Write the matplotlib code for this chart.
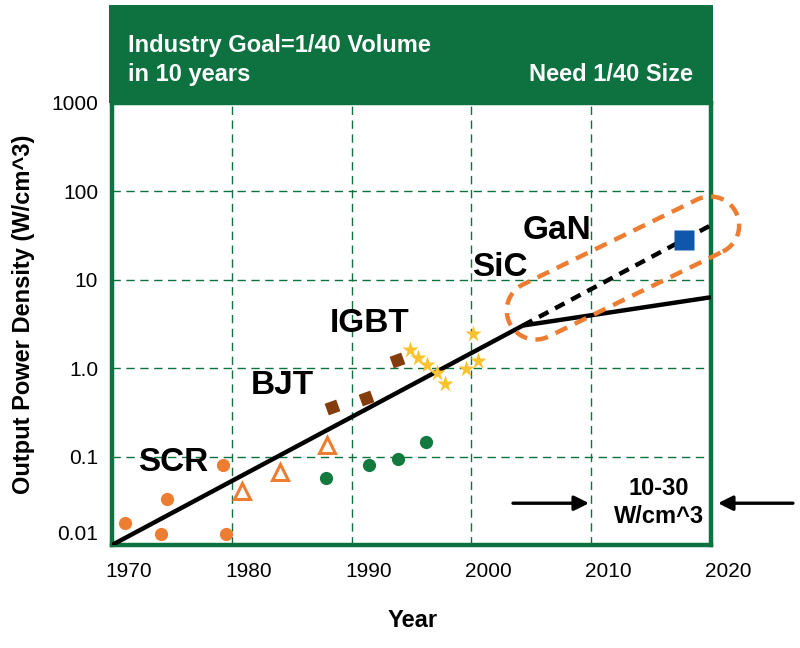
import numpy as np
import matplotlib
matplotlib.use("Agg")
import matplotlib.pyplot as plt
from matplotlib.transforms import ScaledTranslation, IdentityTransform
from matplotlib.patches import Polygon

plt.rcParams['font.family'] = ['Liberation Sans', 'DejaVu Sans']

# ---------------- data ----------------
scr_year = [1971.1, 1974.1, 1974.6, 1979.3, 1979.5]
scr_val = [0.0177, 0.0133, 0.0329, 0.0813, 0.0133]

tri_year = [1980.85, 1984.0, 1987.95]
tri_val = [0.0404, 0.0678, 0.136]

green_year = [1987.9, 1991.45, 1993.9, 1996.2]
green_val = [0.058, 0.081, 0.095, 0.147]

bjt_year = [1988.35, 1991.2, 1993.8]
bjt_val = [0.365, 0.46, 1.23]

igbt_year = [1994.9, 1995.55, 1996.3, 1997.1, 1997.8, 1999.55, 2000.15, 2000.55]
igbt_val = [1.59, 1.29, 1.08, 0.88, 0.66, 0.975, 2.41, 1.2]

gan_year = [2017.75]
gan_val = [28.1]

trend_year = [1970, 2004.3, 2020]
trend_val = [0.01, 3.04, 6.35]

gan_trend_year = [2004.3, 2020]
gan_trend_val = [3.04, 41.5]

x_ticks = [1970, 1980, 1990, 2000, 2010, 2020]
x_ticklabels = ['1970', '1980', '1990', '2000', '2010', '2020']
y_ticks = [0.01, 0.1, 1, 10, 100, 1000]
y_ticklabels = ['0.01', '0.1', '1.0', '10', '100', '1000']

GREEN = '#0d7140'
ORANGE = '#ed7d31'
PT_GREEN = '#127a3e'
BROWN = '#843c0c'
YELLOW = '#f9c22e'
BLUE = '#0f57ab'

# ---------------- figure ----------------
W, H = 800, 648
fig = plt.figure(figsize=(W / 100, H / 100), dpi=100)
ax = fig.add_axes([112 / W, 1 - 545 / H, (711 - 112) / W, (545 - 103) / H])
ax.set_yscale('log')
ax.set_xlim(1970, 2020)
ax.set_ylim(0.01, 1000)

for s in ax.spines.values():
    s.set_color(GREEN)
    s.set_linewidth(3.2)

# grid (decade lines)
for xv in x_ticks[1:-1]:
    ax.axvline(xv, color=GREEN, lw=1.0, ls=(0, (6, 4)), zorder=1)
for yv in y_ticks[1:-1]:
    ax.axhline(yv, color=GREEN, lw=1.0, ls=(0, (6, 4)), zorder=1)

# ticks
ax.set_xticks(x_ticks[:-1])
ax.set_xticklabels(x_ticklabels[:-1])
ax.set_yticks(y_ticks)
ax.set_yticklabels(y_ticklabels)
ax.yaxis.set_minor_locator(matplotlib.ticker.NullLocator())
ax.tick_params(axis='both', length=0, labelsize=15)
ax.tick_params(axis='x', pad=12)
ax.tick_params(axis='y', pad=10)
xoff = ScaledTranslation(17 / 100, 0, fig.dpi_scale_trans)
for lab in ax.get_xticklabels():
    lab.set_transform(lab.get_transform() + xoff)
ylabs = ax.get_yticklabels()
ylabs[0].set_transform(ylabs[0].get_transform() + ScaledTranslation(0, 12 / 100, fig.dpi_scale_trans))
# the 2020 label lies beyond the frame
ax.text(x_ticks[-1], 0, x_ticklabels[-1], fontsize=15, ha='center', va='top', clip_on=False,
        transform=matplotlib.transforms.blended_transform_factory(ax.transData, ax.transAxes)
        + ScaledTranslation(17 / 100, -(12 / 72), fig.dpi_scale_trans))

ax.set_ylabel('Output Power Density (W/cm^3)', fontsize=17, fontweight='bold')
ax.yaxis.set_label_coords(-0.128, 0.523)
ax.set_xlabel('Year', fontsize=17, fontweight='bold')
ax.xaxis.set_label_coords(0.5025, -0.145)

# trend lines
ax.plot(trend_year, trend_val, color='black', lw=3.2, zorder=3, solid_capstyle='butt')
ax.plot(gan_trend_year, gan_trend_val, color='black', lw=3.2, ls=(0, (2.4, 1.7)), zorder=3)

# data points
ax.plot(scr_year, scr_val, 'o', color=ORANGE, ms=9.5, mec='none', zorder=4)
ax.plot(tri_year, tri_val, '^', mfc='white', mec=ORANGE, mew=2.2, ms=12, zorder=4)
ax.plot(green_year, green_val, 'o', color=PT_GREEN, ms=9.5, mec='none', zorder=4)
ax.plot(bjt_year, bjt_val, marker=(4, 0, 65), ls='none', color=BROWN, ms=12.5, mec='none', zorder=4)
ax.plot(igbt_year, igbt_val, '*', color=YELLOW, ms=12.5, mec='none', zorder=4)
ax.plot(gan_year, gan_val, 's', color=BLUE, ms=15, mec='none', zorder=5)

# device labels
lab_kw = dict(fontsize=24, fontweight='bold', ha='center', va='center', zorder=6)
ax.text(1975.09, 0.0857, 'SCR', **lab_kw)
ax.text(1984.19, 0.644, 'BJT', **lab_kw)
ax.text(1991.54, 3.2, 'IGBT', **lab_kw)
ax.text(2002.39, 13.6, 'SiC', **lab_kw)
ax.text(2007.15, 36.5, 'GaN', **lab_kw)

# target text & arrows
ax.text(2015.66, 0.0304, '10-30\nW/cm^3', fontsize=17, fontweight='bold', ha='center',
        va='center', linespacing=1.25, zorder=6)
arrow_kw = dict(arrowstyle='-|>', lw=2.4, color='black', mutation_scale=22,
                shrinkA=0, shrinkB=0)
ax.annotate('', xy=(2009.82, 0.0297), xytext=(2003.47, 0.0297),
            arrowprops=arrow_kw, annotation_clip=False)
ax.annotate('', xy=(2020.58, 0.0297), xytext=(2026.84, 0.0297),
            arrowprops=arrow_kw, annotation_clip=False)

# orange dashed stadium around the GaN region
cx, cy = ax.transData.transform((2012.65, 13.6))
theta = np.deg2rad(26)
half_len, rad = 97, 29
ux, uy = np.cos(theta), np.sin(theta)
a1 = np.linspace(theta - np.pi / 2, theta + np.pi / 2, 40)
a2 = np.linspace(theta + np.pi / 2, theta + 3 * np.pi / 2, 40)
right = np.c_[cx + half_len * ux + rad * np.cos(a1), cy + half_len * uy + rad * np.sin(a1)]
left = np.c_[cx - half_len * ux + rad * np.cos(a2), cy - half_len * uy + rad * np.sin(a2)]
pts = np.vstack([right, left])
poly = Polygon(pts, closed=True, fill=False, ec=ORANGE, lw=3.2, ls=(0, (2.9, 1.9)),
               transform=IdentityTransform(), clip_on=False, zorder=7)
fig.add_artist(poly)

# banner
bax = fig.add_axes([109 / W, 1 - 103 / H, (713 - 109) / W, 98 / H])
bax.set_facecolor(GREEN)
bax.set_xticks([]); bax.set_yticks([])
for s in bax.spines.values():
    s.set_visible(False)
bax.set_xlim(0, 1); bax.set_ylim(0, 1)
bkw = dict(fontsize=17, fontweight='bold', color='white', va='baseline')
bax.text(0.031, 0.52, 'Industry Goal=1/40 Volume', ha='left', **bkw)
bax.text(0.031, 0.224, 'in 10 years', ha='left', **bkw)
bax.text(0.967, 0.224, 'Need 1/40 Size', ha='right', **bkw)

fig.savefig('out.png', dpi=100)
